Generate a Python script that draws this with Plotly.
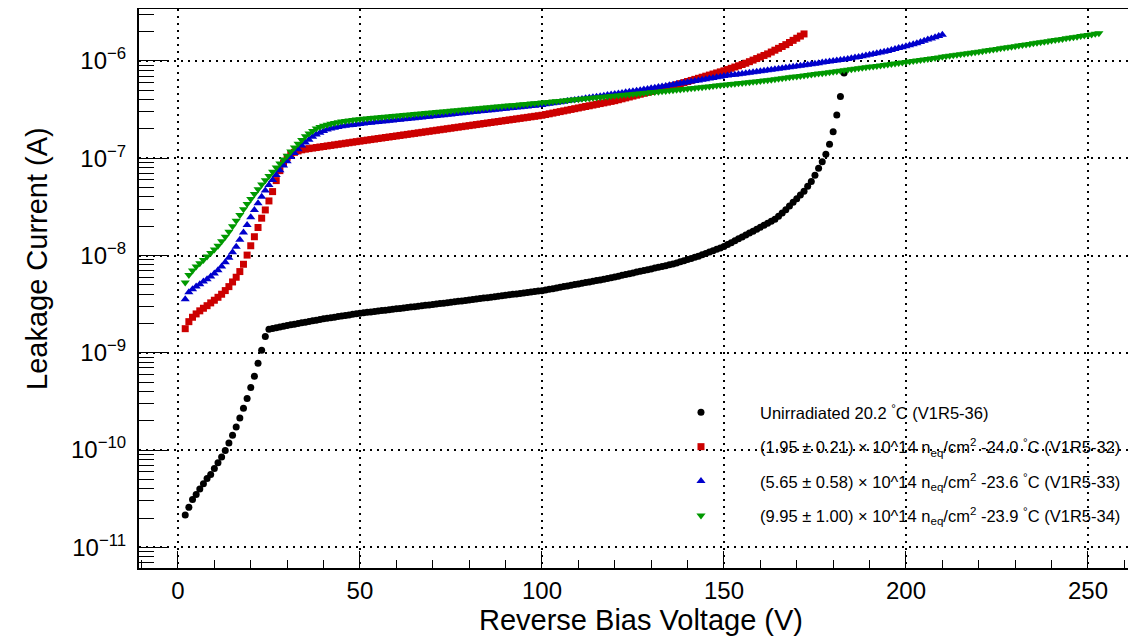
import plotly.graph_objects as go

# Leakage current values, in nA, one value per volt starting at 2 V
unirradiated_nA = [
    0.0215, 0.0258, 0.0310, 0.0350, 0.0398, 0.0450, 0.0510, 0.0560, 0.0645, 0.0740,  # 2-11
    0.0850, 0.0990, 0.118, 0.142, 0.173, 0.214, 0.269, 0.339, 0.440, 0.574,  # 12-21
    0.780, 1.06, 1.47, 1.75, 1.781, 1.812, 1.844, 1.877, 1.910, 1.940,  # 22-31
    1.971, 2.002, 2.034, 2.066, 2.098, 2.131, 2.165, 2.199, 2.234, 2.264,  # 32-41
    2.294, 2.325, 2.356, 2.388, 2.420, 2.452, 2.485, 2.518, 2.552, 2.579,  # 42-51
    2.605, 2.632, 2.660, 2.687, 2.715, 2.743, 2.772, 2.801, 2.830, 2.859,  # 52-61
    2.889, 2.919, 2.949, 2.980, 3.011, 3.042, 3.074, 3.106, 3.138, 3.171,  # 62-71
    3.204, 3.237, 3.271, 3.305, 3.342, 3.379, 3.416, 3.454, 3.492, 3.531,  # 72-81
    3.570, 3.610, 3.650, 3.690, 3.731, 3.773, 3.815, 3.857, 3.900, 3.943,  # 82-91
    3.987, 4.031, 4.076, 4.121, 4.167, 4.213, 4.260, 4.307, 4.355, 4.425,  # 92-101
    4.495, 4.567, 4.640, 4.715, 4.790, 4.867, 4.945, 5.024, 5.104, 5.186,  # 102-111
    5.269, 5.353, 5.439, 5.526, 5.614, 5.704, 5.795, 5.907, 6.021, 6.137,  # 112-121
    6.256, 6.376, 6.499, 6.625, 6.753, 6.883, 7.016, 7.151, 7.289, 7.430,  # 122-131
    7.573, 7.719, 7.868, 8.020, 8.175, 8.396, 8.622, 8.855, 9.094, 9.340,  # 132-141
    9.592, 9.851, 10.18, 10.51, 10.86, 11.22, 11.59, 11.97, 12.37, 12.95,  # 142-151
    13.55, 14.18, 14.84, 15.53, 16.26, 17.01, 17.81, 18.64, 19.55, 20.50,  # 152-161
    21.49, 22.54, 23.63, 25.28, 27.30, 29.62, 32.29, 35.20, 38.36, 41.82,  # 162-171
    45.7, 51.4, 57.8, 67.0, 78.7, 92.0, 110, 139, 187, 279,  # 172-181
    430, 750,  # 182-183
]

fluence1_nA = [
    1.77, 2.09, 2.32, 2.51, 2.70, 2.87, 3.05, 3.26, 3.47, 3.72,  # 2-11
    4.00, 4.36, 4.79, 5.35, 5.98, 6.84, 8.13, 10.1, 12.6, 15.6,  # 12-21
    19.4, 24.2, 29.4, 36.4, 45.4, 58.9, 74.6, 88.8, 102, 111,  # 22-31
    115, 119, 122, 124, 125.6, 127.2, 128.8, 130.4, 132.1, 133.8,  # 32-41
    135.5, 137.2, 139.0, 140.7, 142.5, 144.3, 146.2, 148.0, 149.9, 151.7,  # 42-51
    153.6, 155.5, 157.4, 159.4, 161.3, 163.3, 165.3, 167.4, 169.4, 171.5,  # 52-61
    173.6, 175.8, 177.9, 180.1, 182.3, 184.6, 186.9, 189.2, 191.5, 193.9,  # 62-71
    196.2, 198.7, 201.1, 203.6, 206.1, 208.6, 211.2, 213.8, 216.4, 219.1,  # 72-81
    221.8, 224.5, 227.3, 230.1, 232.9, 235.8, 238.7, 241.6, 244.6, 247.6,  # 82-91
    250.7, 253.7, 256.9, 260.0, 263.2, 266.5, 269.8, 273.1, 276.5, 281.3,  # 92-101
    286.2, 291.2, 296.3, 301.4, 306.7, 312.0, 317.5, 323.0, 328.6, 334.4,  # 102-111
    340.2, 346.1, 352.2, 358.3, 364.5, 370.9, 377.4, 383.9, 390.6, 399.2,  # 112-121
    408.0, 417.0, 426.2, 435.6, 445.2, 455.0, 465.0, 475.3, 485.7, 496.4,  # 122-131
    507.4, 518.5, 530.0, 541.6, 555.5, 569.8, 584.4, 599.4, 614.7, 630.5,  # 132-141
    646.7, 663.3, 680.3, 697.7, 715.6, 733.9, 752.7, 772.0, 791.8, 815.9,  # 142-151
    840.7, 866.2, 892.5, 919.6, 947.6, 983.2, 1020, 1058, 1098, 1139,  # 152-161
    1182, 1235, 1290, 1348, 1408, 1471, 1547, 1628, 1712, 1801,  # 162-171
    1895,  # 172
]

fluence2_nA = [
    3.56, 4.20, 4.51, 4.79, 5.07, 5.40, 5.70, 6.07, 6.52, 7.06,  # 2-11
    7.69, 8.53, 9.51, 10.8, 12.3, 14.5, 17.2, 20.6, 24.7, 29.4,  # 12-21
    34.4, 40.3, 46.5, 53.2, 59.8, 67.4, 75.3, 84.0, 93.1, 103,  # 22-31
    113, 124, 135, 145, 155, 166, 175, 183, 191, 197,  # 32-41
    202, 206, 210, 213, 215.4, 217.8, 220.2, 222.8, 225.4, 227.5,  # 42-51
    229.6, 231.7, 233.9, 236.0, 238.1, 240.3, 242.4, 244.6, 246.8, 249.0,  # 52-61
    251.3, 253.5, 255.8, 258.1, 260.4, 262.8, 265.1, 267.5, 269.9, 272.4,  # 62-71
    274.8, 277.3, 279.8, 282.3, 284.9, 287.5, 290.0, 292.7, 295.3, 298.0,  # 72-81
    300.7, 303.4, 306.1, 308.9, 311.7, 314.5, 317.3, 320.2, 323.1, 326.0,  # 82-91
    328.9, 331.9, 334.9, 337.9, 341.0, 344.0, 347.1, 350.3, 353.4, 358.0,  # 92-101
    362.6, 367.3, 372.1, 376.9, 381.8, 386.8, 391.8, 396.9, 402.0, 407.2,  # 102-111
    412.5, 417.9, 423.3, 428.8, 434.4, 440.0, 445.7, 451.5, 457.4, 463.3,  # 112-121
    469.3, 475.4, 481.6, 487.9, 494.2, 500.6, 507.9, 515.3, 522.9, 530.5,  # 122-131
    538.3, 546.1, 554.1, 562.2, 570.4, 578.7, 587.2, 595.8, 604.5, 613.3,  # 132-141
    622.3, 631.4, 640.6, 649.9, 659.4, 669.1, 678.8, 688.7, 698.8, 706.9,  # 142-151
    715.1, 723.4, 731.7, 740.2, 748.8, 757.5, 766.2, 775.1, 784.1, 793.2,  # 152-161
    802.4, 811.6, 821.0, 830.5, 840.2, 849.9, 859.7, 869.7, 879.8, 891.0,  # 162-171
    902.3, 913.8, 925.5, 937.3, 949.2, 961.3, 973.6, 986.0, 998.5, 1011,  # 172-181
    1024, 1037, 1050, 1064, 1082, 1101, 1120, 1140, 1160, 1180,  # 182-191
    1200, 1221, 1243, 1264, 1294, 1324, 1355, 1386, 1419, 1452,  # 192-201
    1485, 1520, 1564, 1610, 1657, 1706, 1755, 1807, 1859,  # 202-210
]

fluence3_nA = [
    5.27, 6.32, 7.00, 7.69, 8.33, 9.02, 9.75, 10.6, 11.5, 12.6,  # 2-11
    14.0, 15.6, 17.6, 20.0, 22.8, 26.1, 29.9, 33.9, 38.2, 43.0,  # 12-21
    48.0, 53.6, 59.4, 65.8, 72.8, 80.1, 88.1, 96.8, 106, 117,  # 22-31
    129, 141, 154, 168, 180, 191, 201.8, 208.9, 215.3, 220.8,  # 32-41
    225.9, 230.7, 234.9, 238.8, 242.1, 244.9, 247.7, 250.0, 252.3, 254.4,  # 42-51
    256.5, 258.6, 260.8, 263.0, 265.1, 267.1, 269.2, 271.3, 273.5, 275.6,  # 52-61
    277.8, 279.9, 282.1, 284.3, 286.5, 288.8, 291.0, 293.3, 295.6, 297.9,  # 62-71
    300.2, 302.6, 304.9, 307.3, 309.7, 312.1, 314.6, 317.0, 319.5, 322.0,  # 72-81
    324.5, 327.0, 329.6, 332.2, 334.8, 337.4, 340.0, 342.7, 345.4, 348.1,  # 82-91
    350.8, 353.5, 356.3, 359.1, 361.9, 364.7, 367.6, 370.4, 373.3, 376.3,  # 92-101
    379.4, 382.4, 385.5, 388.6, 391.8, 394.9, 398.1, 401.4, 404.6, 407.9,  # 102-111
    411.2, 414.5, 417.9, 421.2, 424.7, 428.1, 431.6, 435.0, 438.6, 442.1,  # 112-121
    445.7, 449.3, 452.9, 456.6, 460.3, 464.0, 467.8, 471.6, 475.4, 479.2,  # 122-131
    483.1, 487.5, 491.9, 496.3, 500.8, 505.3, 509.8, 514.4, 519.0, 523.7,  # 132-141
    528.4, 533.2, 538.0, 542.9, 547.8, 552.7, 557.7, 562.7, 567.8, 572.9,  # 142-151
    578.1, 583.3, 588.5, 593.8, 599.2, 604.6, 610.1, 615.6, 621.1, 628.0,  # 152-161
    635.0, 642.1, 649.2, 656.4, 663.7, 671.1, 678.5, 686.1, 693.7, 701.4,  # 162-171
    709.2, 717.1, 725.0, 733.1, 741.2, 749.4, 757.8, 766.2, 774.7, 783.7,  # 172-181
    792.7, 801.9, 811.2, 820.6, 830.1, 839.7, 849.4, 859.3, 869.2, 879.3,  # 182-191
    889.5, 899.8, 910.2, 920.7, 931.4, 942.2, 953.1, 964.1, 975.3, 987.3,  # 192-201
    999.4, 1012, 1024, 1037, 1049, 1062, 1075, 1088, 1102, 1115,  # 202-211
    1129, 1143, 1157, 1171, 1185, 1200, 1215, 1230, 1245, 1261,  # 212-221
    1278, 1295, 1312, 1329, 1347, 1365, 1383, 1401, 1420, 1438,  # 222-231
    1457, 1477, 1496, 1516, 1536, 1556, 1577, 1598, 1619, 1641,  # 232-241
    1663, 1685, 1708, 1731, 1754, 1777, 1801, 1825, 1850, 1875,  # 242-251
    1900, 1925,  # 252-253
]

START_V = 2  # first measured bias voltage (V); 1 V steps

series_names = [
    "Unirradiated 20.2 <sup>°</sup>C (V1R5-36)",
    "(1.95 ± 0.21) × 10^14 n<sub>eq</sub>/cm<sup>2</sup> -24.0 <sup>°</sup>C (V1R5-32)",
    "(5.65 ± 0.58) × 10^14 n<sub>eq</sub>/cm<sup>2</sup> -23.6 <sup>°</sup>C (V1R5-33)",
    "(9.95 ± 1.00) × 10^14 n<sub>eq</sub>/cm<sup>2</sup> -23.9 <sup>°</sup>C (V1R5-34)",
]
series_values = [unirradiated_nA, fluence1_nA, fluence2_nA, fluence3_nA]
series_colors = ["#000000", "#cc0000", "#0000cc", "#009900"]
series_symbols = ["circle", "square", "triangle-up", "triangle-down"]
series_sizes = [7, 7, 8, 8]

# y-axis decade labels
y_exponents = [-11, -10, -9, -8, -7, -6]

FONT = "Liberation Sans, Arial, Helvetica, sans-serif"

fig = go.Figure()
for i, (name, vals) in enumerate(zip(series_names, series_values)):
    volts = list(range(START_V, START_V + len(vals)))
    amps = [v * 1e-9 for v in vals]
    fig.add_trace(go.Scatter(
        x=volts, y=amps, mode="markers", name=name,
        legendgroup=f"g{i}",
        marker=dict(symbol=series_symbols[i], size=series_sizes[i],
                    color=series_colors[i], line=dict(width=0)),
    ))

major_y = [10.0 ** e for e in y_exponents]
major_y_text = [f"10<sup>\u2212{-e}</sup>" for e in y_exponents]
minor_y = [m * 10.0 ** e for e in range(-12, -4) for m in range(2, 10)]

# the page body has an 8px margin, so the figure is sized to fit the window
fig.update_layout(
    width=1128, height=631,
    margin=dict(l=131, r=0, t=1, b=71, autoexpand=False),
    paper_bgcolor="white", plot_bgcolor="white",
    font=dict(family=FONT, color="black"),
    showlegend=True,
    legend=dict(
        x=0.5045, y=0.3095, xanchor="left", yanchor="top",
        bgcolor="rgba(0,0,0,0)", borderwidth=0,
        font=dict(size=16.5, family=FONT, color="black"),
        itemwidth=108, tracegroupgap=10, traceorder="grouped",
    ),
    xaxis=dict(
        range=[-10.7, 263.2], automargin=False,
        tick0=0, dtick=50,
        ticks="inside", ticklen=17, tickwidth=1, tickcolor="black",
        tickfont=dict(size=24, family=FONT, color="black"),
        ticklabelstandoff=0,
        showline=True, linewidth=2, linecolor="black", mirror=True,
        showgrid=True, gridcolor="black", gridwidth=2, griddash="2px,5px",
        zeroline=False,
        minor=dict(ticks="inside", ticklen=8, tickwidth=1, tickcolor="black",
                   tick0=0, dtick=10, showgrid=False),
    ),
    yaxis=dict(
        type="log", automargin=False,
        range=[-11.212, -5.466],
        tickmode="array", tickvals=major_y, ticktext=major_y_text,
        ticks="inside", ticklen=30, tickwidth=1, tickcolor="black",
        tickfont=dict(size=24, family=FONT, color="black"),
        ticklabelstandoff=6,
        showline=True, linewidth=2, linecolor="black", mirror=False,
        showgrid=True, gridcolor="black", gridwidth=2, griddash="2px,5px",
        zeroline=False,
        minor=dict(ticks="inside", ticklen=15, tickwidth=1, tickcolor="black",
                   tickmode="array", tickvals=minor_y, showgrid=False),
    ),
    annotations=[
        dict(text="Leakage Current (A)", textangle=-90,
             xref="paper", yref="paper", x=-0.1023, y=0.5528,
             xanchor="center", yanchor="middle", showarrow=False,
             font=dict(size=29, family=FONT, color="black")),
        dict(text="Reverse Bias Voltage (V)",
             xref="paper", yref="paper", x=0.5035, y=-0.093,
             xanchor="center", yanchor="middle", showarrow=False,
             font=dict(size=29, family=FONT, color="black")),
    ],
)

fig.write_html("out.html")
